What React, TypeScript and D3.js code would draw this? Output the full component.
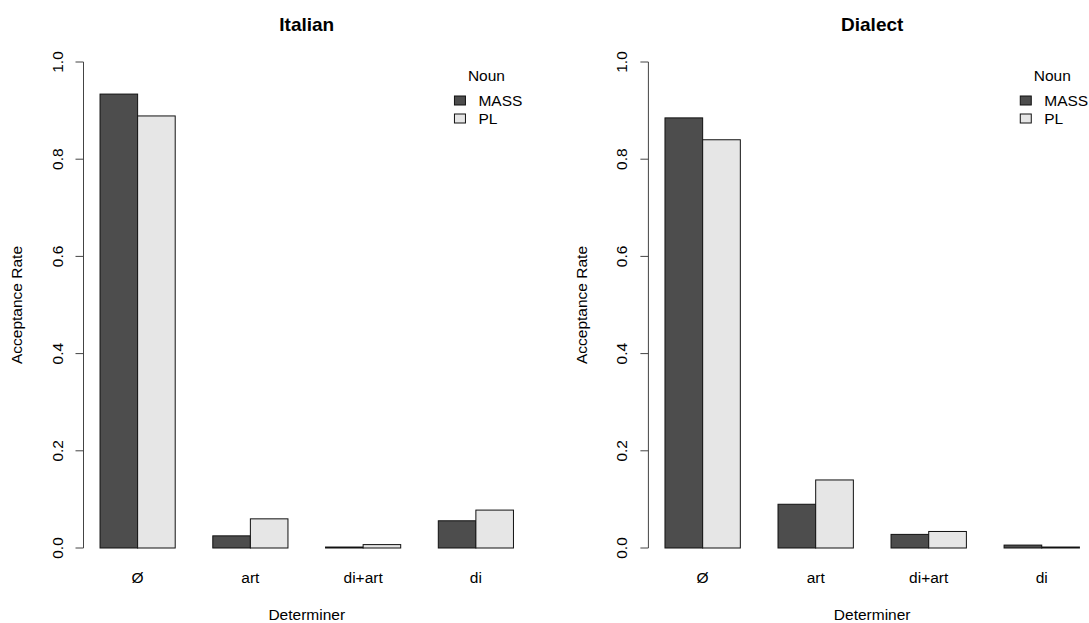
import React from "react";
import * as d3 from "d3";

const determiners = ["Ø", "art", "di+art", "di"];
const nounTypes = ["MASS", "PL"];
const italianMass = [0.934, 0.025, 0.002, 0.056];
const italianPl = [0.889, 0.06, 0.007, 0.078];
const dialectMass = [0.885, 0.09, 0.028, 0.006];
const dialectPl = [0.84, 0.14, 0.034, 0.002];
const yTicks = [0, 0.2, 0.4, 0.6, 0.8, 1.0];
const fills = ["#4d4d4d", "#e6e6e6"];

const FONT = "'Liberation Sans', Arial, sans-serif";
const FS = 15.5;

function Panel({ title, series, x0, x1 }: { title: string; series: number[][]; x0: number; x1: number }) {
  const x = d3.scaleLinear().domain([0.56, 12.44]).range([x0, x1]);
  const y = d3.scaleLinear().domain([0, 1]).range([548, 62]);
  const unit = x(1) - x(0);
  const cx = (x0 + x1) / 2;
  const axisX = x0;
  const legendX = x(10.43);
  return (
    <g>
      <text x={cx} y={31} textAnchor="middle" fontWeight="bold" fontSize={19} fontFamily={FONT}>{title}</text>
      {determiners.map((d, i) =>
        series.map((s, j) => {
          const left = x(1 + 3 * i + j);
          return (
            <rect key={d + j} x={left} y={y(s[i])} width={unit} height={y(0) - y(s[i])}
              fill={fills[j]} stroke="#111" strokeWidth={1} />
          );
        })
      )}
      <line x1={axisX} x2={axisX} y1={y(0)} y2={y(1)} stroke="#444" />
      {yTicks.map((t) => (
        <g key={t}>
          <line x1={axisX - 8} x2={axisX} y1={y(t)} y2={y(t)} stroke="#444" />
          <text transform={`translate(${axisX - 21},${y(t)}) rotate(-90)`} textAnchor="middle"
            fontSize={FS} fontFamily={FONT}>{t.toFixed(1)}</text>
        </g>
      ))}
      {determiners.map((d, i) => (
        <text key={d} x={x(2 + 3 * i)} y={583} textAnchor="middle" fontSize={FS} fontFamily={FONT}>{d}</text>
      ))}
      <text x={cx} y={619.5} textAnchor="middle" fontSize={FS} fontFamily={FONT}>Determiner</text>
      <text transform={`translate(${axisX - 61.5},${(y(0) + y(1)) / 2}) rotate(-90)`} textAnchor="middle"
        fontSize={FS} fontFamily={FONT}>Acceptance Rate</text>
      <text x={legendX + 32} y={81} textAnchor="middle" fontSize={FS} fontFamily={FONT}>Noun</text>
      {nounTypes.map((n, j) => (
        <g key={n}>
          <rect x={legendX} y={96 + 18 * j} width={11} height={9} fill={fills[j]} stroke="#111" />
          <text x={legendX + 24} y={106 + 18 * j} fontSize={FS} fontFamily={FONT}>{n}</text>
        </g>
      ))}
    </g>
  );
}

export default function App() {
  return (
    <svg width={1089} height={623} style={{ position: "absolute", left: 0, top: 0, background: "#fff" }}>
      <rect width={1089} height={623} fill="#fff" />
      <Panel title="Italian" series={[italianMass, italianPl]} x0={83.5} x1={530} />
      <Panel title="Dialect" series={[dialectMass, dialectPl]} x0={648.4} x1={1096} />
    </svg>
  );
}
